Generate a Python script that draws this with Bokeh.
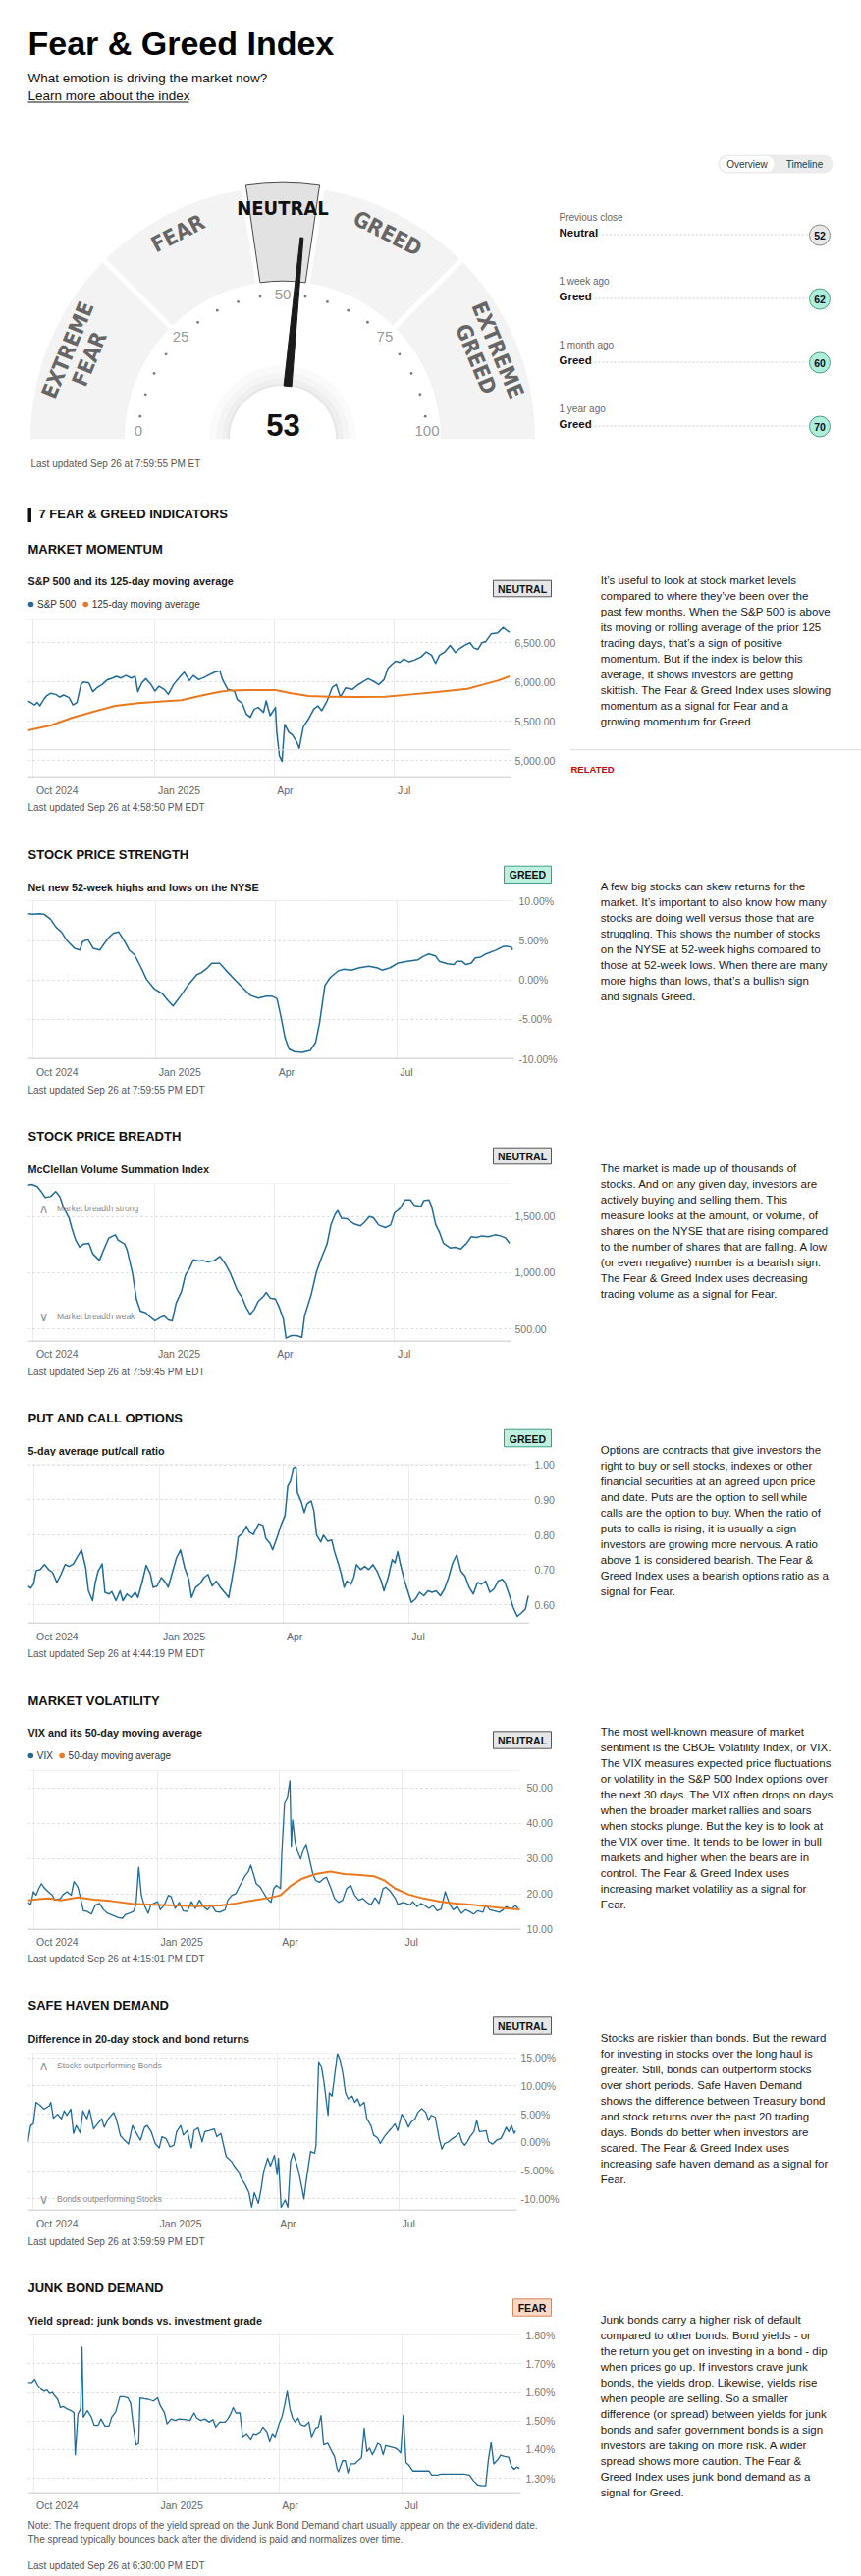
import numpy as np
import pandas as pd
from bokeh.plotting import figure
from bokeh.layouts import column, row
from bokeh.models import Range1d, FixedTicker, NumeralTickFormatter, PrintfTickFormatter, Span
from bokeh.core.properties import value
from bokeh.embed import file_html
from bokeh.resources import INLINE

SANS = "Liberation Sans"
NARROW = "Liberation Sans Narrow, DejaVu Sans Condensed, sans-serif"
BLUE = "#1f6a97"
ORANGE = "#e8791f"

# ---------------- data ----------------
gauge_value = 53
gauge_bounds = [0, 25, 45, 55, 75, 100]
gauge_names = [["EXTREME", "FEAR"], ["FEAR"], ["NEUTRAL"], ["GREED"], ["EXTREME", "GREED"]]
gauge_active = 2
gauge_ticks = list(range(0, 101, 5))

hist_when = ["Previous close", "1 week ago", "1 month ago", "1 year ago"]
hist_rating = ["Neutral", "Greed", "Greed", "Greed"]
hist_value = [52, 62, 60, 70]

start_date = "2024-09-26"
x_start, x_end = "2024-09-27", "2025-09-27"
quarter_dates = ["2024-10-01", "2025-01-01", "2025-04-01", "2025-07-01"]
quarter_labels = ["Oct 2024", "Jan 2025", "Apr", "Jul"]

sp500_days = [1,3,6,8,10,13,15,18,22,25,28,32,35,38,41,43,47,50,53,57,61,65,68,71,75,79,82,84,87,90,94,97,100,104,107,111,115,119,123,126,130,134,138,142,146,148,152,157,159,163,166,169,172,175,179,181,184,188,189,191,193,194,195,198,201,204,206,209,213,217,220,223,227,231,234,237,241,246,250,254,258,262,266,270,273,276,279,282,285,289,293,298,302,306,309,312,316,320,324,327,331,335,338,341,344,347,351,356,360,363,365]
sp500_vals = [5760,5740,5710,5740,5698,5781,5823,5856,5843,5810,5835,5802,5710,5740,5968,6001,5989,5877,5926,5968,6030,6051,6072,6051,6084,6051,6072,5877,5989,6043,5968,5885,5947,5906,5843,5968,6051,6126,6018,6084,6030,6059,6093,6126,6143,6030,5906,5885,5781,5727,5594,5553,5656,5677,5615,5760,5573,5677,5365,5062,4991,5241,5461,5365,5324,5241,5158,5428,5532,5656,5698,5636,5760,5934,5968,5810,5926,5906,5960,6001,6043,6010,5968,6030,6176,6226,6267,6251,6292,6259,6280,6321,6384,6342,6238,6342,6384,6467,6375,6425,6467,6500,6433,6417,6500,6517,6612,6625,6695,6654,6633]
sp_ma_days = [1,18,34,51,67,84,100,117,134,146,154,167,188,200,213,229,250,271,291,312,333,345,356,365]
sp_ma_vals = [5386,5448,5544,5627,5698,5731,5752,5769,5835,5877,5893,5897,5897,5856,5823,5814,5810,5814,5843,5877,5914,5968,6018,6072]

strength_days = [1,5,9,13,18,22,26,30,36,40,42,46,50,55,61,65,69,73,77,81,86,90,96,102,106,110,116,121,125,128,131,135,139,145,149,156,162,168,174,180,184,188,191,194,197,201,207,213,217,220,224,228,234,238,244,250,257,263,267,273,279,286,294,298,302,307,310,316,321,323,327,330,334,337,341,345,352,358,361,364,365]
strength_vals = [8.4,8.35,8.4,8.35,7.7,6.7,6.1,5.05,4.0,3.8,4.85,5.15,4.0,3.8,5.25,5.9,6.1,5.05,3.8,3.2,1.55,0.1,-1.15,-1.75,-2.6,-3.3,-1.95,-0.7,0.1,0.7,0.9,1.4,2.1,2.1,1.35,0.1,-0.95,-1.95,-2.3,-2.05,-2.05,-2.35,-4.65,-7.3,-8.75,-9.1,-9.2,-8.95,-7.95,-5.45,-0.7,0.3,1.15,1.35,1.25,1.55,1.75,1.55,1.25,1.55,2.15,2.35,2.55,3.0,3.3,3.05,2.35,2.05,1.95,2.35,2.35,1.95,2.15,2.8,2.9,3.3,3.75,4.25,4.25,4.15,3.8]

breadth_days = [1,4,8,11,14,18,22,25,28,32,34,37,40,43,47,50,55,58,62,67,69,74,76,80,83,86,90,93,97,101,104,107,110,113,117,120,123,126,130,133,137,142,146,150,154,159,163,166,169,172,175,179,181,184,188,191,194,196,200,204,208,210,215,219,223,227,230,233,235,238,242,247,252,255,259,262,266,271,275,278,282,286,290,293,298,300,304,306,309,312,315,320,324,328,332,336,340,344,349,354,358,362,365]
breadth_vals = [1779,1785,1765,1721,1669,1677,1721,1677,1576,1488,1401,1291,1227,1256,1262,1169,1110,1198,1308,1337,1291,1256,1198,994,762,660,645,610,573,602,616,581,573,733,834,980,1038,1116,1105,1110,1096,1110,1145,1081,994,849,776,689,631,674,747,791,826,776,767,689,587,419,442,442,427,616,805,1009,1140,1256,1430,1517,1552,1483,1480,1436,1416,1445,1500,1488,1424,1401,1424,1532,1570,1648,1648,1599,1590,1640,1648,1590,1430,1358,1262,1221,1227,1212,1256,1320,1314,1328,1320,1337,1328,1308,1262]

putcall_days = [1,3,5,7,10,13,16,19,22,25,28,31,34,37,40,43,45,48,50,52,55,57,60,62,65,68,70,73,76,79,81,84,87,90,92,95,98,101,103,106,109,112,115,118,120,123,126,129,132,135,138,141,144,147,149,152,154,157,160,162,165,167,169,172,174,177,179,182,185,188,190,192,194,196,197,200,202,204,207,209,211,214,216,219,222,224,227,229,231,233,236,238,240,243,246,249,252,255,258,260,263,266,268,270,272,275,278,280,283,286,289,292,295,298,301,304,307,310,313,316,319,322,325,328,331,334,337,340,343,346,348,351,354,357,360,363,365]
putcall_vals = [0.654,0.648,0.659,0.698,0.701,0.715,0.701,0.692,0.664,0.687,0.715,0.710,0.717,0.738,0.757,0.706,0.640,0.612,0.664,0.696,0.717,0.636,0.631,0.638,0.612,0.640,0.612,0.631,0.621,0.636,0.621,0.664,0.713,0.689,0.650,0.654,0.678,0.664,0.650,0.692,0.734,0.757,0.706,0.673,0.621,0.650,0.659,0.678,0.687,0.654,0.668,0.650,0.636,0.621,0.664,0.734,0.794,0.804,0.825,0.808,0.801,0.818,0.832,0.827,0.790,0.776,0.757,0.790,0.827,0.855,0.939,0.953,0.991,0.995,0.921,0.893,0.864,0.888,0.897,0.869,0.799,0.780,0.799,0.782,0.785,0.752,0.715,0.687,0.650,0.668,0.659,0.678,0.715,0.701,0.710,0.701,0.715,0.696,0.668,0.640,0.678,0.729,0.720,0.752,0.715,0.668,0.631,0.607,0.617,0.636,0.626,0.640,0.636,0.640,0.626,0.645,0.678,0.720,0.743,0.696,0.682,0.650,0.631,0.664,0.659,0.668,0.636,0.645,0.668,0.673,0.664,0.631,0.593,0.567,0.577,0.589,0.626]

vix_days = [1,3,5,7,9,11,13,16,19,21,25,27,30,33,35,38,40,42,45,48,51,54,57,60,64,68,71,73,76,79,81,83,85,87,90,92,97,99,102,105,107,110,113,116,119,122,125,128,131,134,137,140,143,147,149,152,155,158,162,164,166,168,170,173,175,178,181,183,185,188,189,191,193,195,196,197,199,201,203,205,207,210,212,214,217,220,222,225,228,231,234,237,240,243,246,249,252,255,258,261,264,266,269,273,275,279,284,286,289,292,294,298,301,304,307,310,313,316,319,322,325,328,331,334,338,340,343,346,350,353,355,359,362,364,365]
vix_vals = [17.6,16.9,20.6,19.6,21.5,22.9,21.7,20.6,19.6,18.2,18.7,19.8,20.6,19.6,23.5,21.9,18.7,15.2,15.0,14.3,16.9,17.3,15.5,14.5,13.9,13.3,13.1,14.1,14.5,15.0,16.9,27.5,19.6,16.9,14.5,16.9,17.8,15.5,16.9,19.6,19.2,15.9,17.6,15.2,15.0,17.8,15.9,18.2,16.4,15.5,16.9,15.0,14.8,15.5,18.2,19.6,20.1,22.4,25.2,26.1,28.1,25.6,22.9,21.9,20.6,18.7,17.6,21.5,22.4,21.5,31.7,45.6,47.0,52.0,33.5,40.9,34.4,31.7,29.8,32.6,34.0,28.9,25.6,23.8,23.3,24.3,24.7,21.9,18.7,17.6,18.2,21.5,22.4,19.6,18.2,18.7,17.6,16.9,18.9,17.3,21.5,21.9,20.9,18.7,17.0,17.6,16.9,17.8,16.4,17.3,16.9,15.9,16.7,15.2,15.7,20.6,17.3,15.5,16.4,14.5,15.5,15.0,14.3,15.2,14.8,16.9,15.5,15.2,14.8,15.5,16.4,15.7,16.7,15.9,15.4]
vix_ma_days = [1,9,17,25,38,50,62,78,94,111,127,143,155,168,180,188,196,204,214,225,235,245,257,265,273,283,294,306,318,330,342,355,365]
vix_ma_vals = [18.2,18.5,18.7,18.2,19.0,18.4,18.0,17.2,16.9,16.7,16.5,16.7,17.3,18.2,18.9,19.6,22.4,24.3,25.6,26.3,25.6,25.4,25.0,23.8,21.5,19.8,18.7,17.8,17.3,16.9,16.4,15.9,15.6]

safe_days = [1,3,5,7,10,13,17,18,20,23,26,28,30,33,35,37,40,42,45,47,50,53,56,58,61,65,67,70,73,76,79,82,85,88,90,93,96,99,101,104,107,110,112,115,117,120,123,125,128,131,133,136,140,142,145,147,149,153,155,158,160,163,166,168,170,173,175,177,180,182,185,187,188,190,193,195,197,199,201,203,205,207,209,212,215,216,218,220,222,225,226,228,230,232,234,236,238,240,243,245,247,249,252,254,257,259,262,264,267,270,272,275,277,280,283,285,287,290,292,295,298,300,302,305,308,310,312,315,318,320,323,325,327,329,331,334,336,338,341,343,345,348,351,354,356,358,360,362,364,365]
safe_vals = [0.1,3.0,3.3,7.1,6.6,5.9,6.5,7.1,4.3,5.0,4.2,5.6,4.8,5.9,1.6,3.0,1.7,5.6,4.2,5.8,2.4,3.3,4.2,2.7,4.2,5.3,4.1,1.2,0.4,-0.3,3.0,1.6,0.4,2.7,3.0,1.9,-0.2,-1.0,1.0,0.7,-0.8,-0.5,1.9,3.0,1.3,2.1,-1.0,2.1,2.6,0.1,1.9,2.1,2.4,1.0,1.6,-0.5,-2.5,-3.4,-4.2,-5.1,-6.3,-7.4,-8.9,-11.5,-8.9,-10.8,-8.3,-5.1,-2.8,-4.2,-2.3,-5.7,-2.8,-11.5,-10.2,-11.5,-3.4,-1.9,-3.4,-5.1,-7.4,-10.0,-6.3,-1.6,-1.9,-0.5,14.3,13.5,10.6,4.8,8.8,8.2,12.0,15.8,14.6,12.3,8.8,7.7,8.2,7.1,7.7,6.5,7.1,4.2,3.0,1.3,0.8,-0.2,1.0,1.9,2.4,3.3,2.1,5.0,3.9,2.7,3.6,4.2,5.3,6.0,5.3,3.9,4.8,4.5,0.7,-1.2,-0.2,0.1,0.7,1.0,1.7,0.1,-0.5,0.1,1.0,1.9,3.9,1.9,2.0,2.1,0.1,-0.3,0.4,0.7,1.6,2.7,1.9,3.0,1.6,2.1]

junk_days = [1,4,6,8,11,13,15,17,19,21,23,25,27,30,33,35,36,38,40,41,42,45,48,50,53,55,58,61,63,66,69,72,75,77,79,81,83,84,87,90,94,97,99,102,104,107,110,113,117,121,124,126,129,132,135,138,140,143,147,149,151,153,155,158,160,163,166,168,170,173,175,178,180,182,184,187,189,191,193,195,197,199,201,203,206,209,211,214,216,218,220,223,226,228,230,231,234,236,238,240,243,245,248,250,252,254,256,258,260,262,264,266,269,273,275,277,279,281,283,286,290,294,298,300,304,307,312,318,324,328,331,334,337,340,342,344,346,349,351,354,357,359,361,363,365]
junk_vals = [1.635,1.635,1.646,1.627,1.610,1.604,1.608,1.596,1.600,1.587,1.576,1.547,1.551,1.542,1.536,1.530,1.382,1.524,1.542,1.758,1.513,1.536,1.513,1.485,1.485,1.507,1.482,1.482,1.513,1.532,1.585,1.585,1.581,1.562,1.485,1.416,1.422,1.581,1.578,1.576,1.570,1.581,1.553,1.530,1.490,1.507,1.502,1.507,1.505,1.502,1.528,1.510,1.502,1.507,1.496,1.505,1.479,1.496,1.496,1.507,1.524,1.547,1.528,1.528,1.445,1.456,1.437,1.456,1.453,1.462,1.479,1.462,1.430,1.456,1.445,1.490,1.513,1.553,1.604,1.542,1.510,1.496,1.510,1.487,1.482,1.496,1.445,1.475,1.479,1.519,1.416,1.422,1.393,1.376,1.331,1.323,1.361,1.361,1.319,1.350,1.350,1.359,1.371,1.475,1.393,1.405,1.382,1.399,1.422,1.416,1.382,1.414,1.410,1.405,1.399,1.388,1.521,1.354,1.346,1.325,1.325,1.325,1.325,1.311,1.311,1.314,1.314,1.314,1.314,1.311,1.291,1.277,1.274,1.274,1.365,1.425,1.350,1.365,1.380,1.376,1.373,1.342,1.331,1.339,1.334]

momentum_desc = ["It’s useful to look at stock market levels", "compared to where they’ve been over the",
    "past few months. When the S&P 500 is above", "its moving or rolling average of the prior 125",
    "trading days, that’s a sign of positive", "momentum. But if the index is below this",
    "average, it shows investors are getting", "skittish. The Fear & Greed Index uses slowing",
    "momentum as a signal for Fear and a", "growing momentum for Greed."]
strength_desc = ["A few big stocks can skew returns for the", "market. It’s important to also know how many",
    "stocks are doing well versus those that are", "struggling. This shows the number of stocks",
    "on the NYSE at 52-week highs compared to", "those at 52-week lows. When there are many",
    "more highs than lows, that’s a bullish sign", "and signals Greed."]
breadth_desc = ["The market is made up of thousands of", "stocks. And on any given day, investors are",
    "actively buying and selling them. This", "measure looks at the amount, or volume, of",
    "shares on the NYSE that are rising compared", "to the number of shares that are falling. A low",
    "(or even negative) number is a bearish sign.", "The Fear & Greed Index uses decreasing",
    "trading volume as a signal for Fear."]
putcall_desc = ["Options are contracts that give investors the", "right to buy or sell stocks, indexes or other",
    "financial securities at an agreed upon price", "and date. Puts are the option to sell while",
    "calls are the option to buy. When the ratio of", "puts to calls is rising, it is usually a sign",
    "investors are growing more nervous. A ratio", "above 1 is considered bearish. The Fear &",
    "Greed Index uses a bearish options ratio as a", "signal for Fear."]
vix_desc = ["The most well-known measure of market", "sentiment is the CBOE Volatility Index, or VIX.",
    "The VIX measures expected price fluctuations", "or volatility in the S&P 500 Index options over",
    "the next 30 days. The VIX often drops on days", "when the broader market rallies and soars",
    "when stocks plunge. But the key is to look at", "the VIX over time. It tends to be lower in bull",
    "markets and higher when the bears are in", "control. The Fear & Greed Index uses",
    "increasing market volatility as a signal for", "Fear."]
safe_desc = ["Stocks are riskier than bonds. But the reward", "for investing in stocks over the long haul is",
    "greater. Still, bonds can outperform stocks", "over short periods. Safe Haven Demand",
    "shows the difference between Treasury bond", "and stock returns over the past 20 trading",
    "days. Bonds do better when investors are", "scared. The Fear & Greed Index uses",
    "increasing safe haven demand as a signal for", "Fear."]
junk_desc = ["Junk bonds carry a higher risk of default", "compared to other bonds. Bond yields - or",
    "the return you get on investing in a bond - dip", "when prices go up. If investors crave junk",
    "bonds, the yields drop. Likewise, yields rise", "when people are selling. So a smaller",
    "difference (or spread) between yields for junk", "bonds and safer government bonds is a sign",
    "investors are taking on more risk. A wider", "spread shows more caution. The Fear &",
    "Greed Index uses junk bond demand as a", "signal for Greed."]
junk_note = ["Note: The frequent drops of the yield spread on the Junk Bond Demand chart usually appear on the ex-dividend date.",
    "The spread typically bounces back after the dividend is paid and normalizes over time."]

# ---------------- styles ----------------
badge_w = {"NEUTRAL": 59, "GREED": 48, "FEAR": 39}
badge_style = {"NEUTRAL": ("#e6e6e6", "#555555"), "GREED": ("#bdf0df", "#3f9a86"), "FEAR": ("#fcd8c5", "#d4875c")}
rating_fill = {"Neutral": ("#e8e8e8", "#8a8a8a"), "Greed": ("#aeeedb", "#4b9e8b"), "Fear": ("#fcd8c5", "#d4875c")}
SPLIT, RIGHT = 580, 877
DESC_FONT = "11.5px"


def txt(p, x, y, s, size, color="#111", bold=False, align="left", baseline="middle", font=SANS, angle=0.0, x_offset=0):
    p.text(x=[x], y=[y], text=[s], text_font=value(font), text_font_size=size,
           text_font_style="bold" if bold else "normal", text_color=color,
           text_align=align, text_baseline=baseline, angle=angle, x_offset=x_offset)


def pix_fig(x0, x1, y0, y1, xr=None):
    p = figure(width=int(round(x1 - x0)), height=int(round(y1 - y0)),
               x_range=xr if xr is not None else Range1d(x0, x1), y_range=Range1d(y1, y0),
               x_axis_location=None, y_axis_location=None,
               output_backend="svg", toolbar_location=None, min_border=0,
               outline_line_color=None)
    p.xgrid.visible = False
    p.ygrid.visible = False
    return p


# ---------------- header + gauge ----------------
hdr = pix_fig(0, RIGHT, 0, 540)
txt(hdr, 28, 43, "Fear & Greed Index", "34px", "#000", True, baseline="alphabetic")
txt(hdr, 28, 79, "What emotion is driving the market now?", "13.5px", "#111")
txt(hdr, 28, 96.7, "Learn more about the index", "13.5px", "#111")
hdr.segment(x0=[28], y0=[103.5], x1=[192], y1=[103.5], line_color="#111", line_width=1)

# toggle
hdr.segment(x0=[740.5], y0=[166.5], x1=[838.5], y1=[166.5], line_color="#ececec", line_width=19, line_cap="round")
hdr.segment(x0=[741], y0=[166.5], x1=[780], y1=[166.5], line_color="#ffffff", line_width=16, line_cap="round")
txt(hdr, 760.5, 166.5, "Overview", "10px", "#333", align="center")
txt(hdr, 819, 166.5, "Timeline", "10px", "#333", align="center")

cx, cy = 287.5, 446.7
r_in, r_out = 161, 257


def ang(v):
    return np.pi * (1 - v / 100.0)


n = len(gauge_names)
hdr.annular_wedge(x=[cx] * n, y=[cy] * n, inner_radius=r_in, outer_radius=r_out,
                  start_angle=[ang(b) for b in gauge_bounds[1:]], end_angle=[ang(b) for b in gauge_bounds[:-1]],
                  fill_color="#f3f3f3", line_color=None, direction="anticlock")
inner_b = gauge_bounds[1:-1]
hdr.segment(x0=[cx + (r_in - 3) * np.cos(ang(b)) for b in inner_b], y0=[cy - (r_in - 3) * np.sin(ang(b)) for b in inner_b],
            x1=[cx + (r_out + 9) * np.cos(ang(b)) for b in inner_b], y1=[cy - (r_out + 9) * np.sin(ang(b)) for b in inner_b],
            line_color="white", line_width=5)
a0, a1 = gauge_bounds[gauge_active], gauge_bounds[gauge_active + 1]
hdr.annular_wedge(x=[cx], y=[cy], inner_radius=r_in, outer_radius=r_out + 5,
                  start_angle=[ang(a1) + 0.013], end_angle=[ang(a0) - 0.013],
                  fill_color="#e2e2e2", line_color="#4a4a4a", line_width=1, direction="anticlock")

for k, names in enumerate(gauge_names):
    mid = (gauge_bounds[k] + gauge_bounds[k + 1]) / 2.0
    th = ang(mid)
    radii = [235] if len(names) == 1 else [237, 213]
    active = (k == gauge_active)
    col = "#111111" if active else "#666666"
    size = "20px" if active else "22px"
    for nm, rr in zip(names, radii):
        txt(hdr, cx + rr * np.cos(th), cy - rr * np.sin(th), nm, size, col, True,
            align="center", font=NARROW, angle=th - np.pi / 2)

# ticks
dots = [v for v in gauge_ticks if v % 25]
hdr.circle(x=[cx + 147 * np.cos(ang(v)) for v in dots], y=[cy - 147 * np.sin(ang(v)) for v in dots],
           radius=1.4, fill_color="#7a7a7a", line_color=None)
for v in gauge_ticks:
    if v % 25 == 0:
        yy = min(cy - 147 * np.sin(ang(v)), cy - 8)
        txt(hdr, cx + 147 * np.cos(ang(v)), yy, str(v), "15px", "#9a9a9a", align="center")

# center disc with soft shadow
for (ri, ro, c) in [(68, 75, "#fafafa"), (62, 68, "#f5f5f5"), (57, 62, "#efefef"), (54, 57, "#e8e8e8")]:
    hdr.annular_wedge(x=[cx], y=[cy], inner_radius=ri, outer_radius=ro, start_angle=0, end_angle=np.pi,
                      fill_color=c, line_color=None, direction="anticlock")
hdr.wedge(x=[cx], y=[cy], radius=54, start_angle=0, end_angle=np.pi, fill_color="white", line_color=None,
          direction="anticlock")

# needle
th = ang(gauge_value)
ux, uy = np.cos(th), -np.sin(th)
nx, ny = np.sin(th), np.cos(th)
bx, by = cx + 54 * ux, cy + 54 * uy
tx, ty = cx + 206 * ux, cy + 206 * uy
hdr.patch(x=[bx + 4 * nx, tx + 1.5 * nx, tx - 1.5 * nx, bx - 4 * nx],
          y=[by + 4 * ny, ty + 1.5 * ny, ty - 1.5 * ny, by - 4 * ny], fill_color="#1b1b1b", line_color="#1b1b1b")
txt(hdr, 288, 432, str(gauge_value), "31px", "#111", True, align="center")
txt(hdr, 31, 471.7, "Last updated Sep 26 at 7:59:55 PM ET", "10px", "#555")

# history list
for i, (w, rt, vv) in enumerate(zip(hist_when, hist_rating, hist_value)):
    y0 = 221 + 65 * i
    txt(hdr, 569, y0, w, "10px", "#666")
    txt(hdr, 569, y0 + 15, rt, "11.5px", "#111", True)
    cyy = y0 + 18
    hdr.segment(x0=[569 + len(rt) * 5.6 + 4], y0=[cyy - 0.5], x1=[822], y1=[cyy - 0.5],
                line_color="#cccccc", line_width=1, line_dash="2 2")
    f, l = rating_fill[rt]
    hdr.circle(x=[834.5], y=[cyy], radius=10.5, fill_color=f, line_color=l, line_width=1)
    txt(hdr, 834.5, cyy, str(vv), "10.5px", "#111", True, align="center")

hdr.quad(left=[28], right=[31.5], top=[516.5], bottom=[531.5], fill_color="#111", line_color=None)
txt(hdr, 39, 523.3, "7 FEAR & GREED INDICATORS", "13px", "#111", True)

# ---------------- indicator sections ----------------
pct = PrintfTickFormatter(format="%.2f%%")
sections = [
    dict(top=540, ftop=631, fbot=791, bot=845, fright=520, standoff=4, yr=(4792, 6791),
         yticks=[5000, 5500, 6000, 6500], yfmt=NumeralTickFormatter(format="0,0.00"),
         title="MARKET MOMENTUM", y_title=558.7, subtitle="S&P 500 and its 125-day moving average", y_sub=591.3,
         badge="NEUTRAL", badge_y=(590.7, 607.3),
         legend=[(31, "S&P 500", BLUE), (86.7, "125-day moving average", ORANGE)], y_leg=615,
         series=[(sp500_days, sp500_vals, BLUE, 1.5), (sp_ma_days, sp_ma_vals, ORANGE, 2)],
         y_xlab=804.3, updated="Last updated Sep 26 at 4:58:50 PM EDT", y_upd=821.7,
         desc=momentum_desc, y_desc=590.3, hline=763.3),
    dict(top=845, ftop=917, fbot=1078, bot=1130, fright=523, standoff=5, yr=(-10.0, 10.05),
         yticks=[-10, -5, 0, 5, 10], yfmt=pct,
         title="STOCK PRICE STRENGTH", y_title=870, subtitle="Net new 52-week highs and lows on the NYSE", y_sub=903.3,
         badge="GREED", badge_y=(881.7, 899),
         series=[(strength_days, strength_vals, BLUE, 1.5)],
         y_xlab=1091.7, updated="Last updated Sep 26 at 7:59:55 PM EDT", y_upd=1109.7,
         desc=strength_desc, y_desc=902.3),
    dict(top=1130, ftop=1205, fbot=1366, bot=1415, fright=520, standoff=4, yr=(389.5, 1793.6),
         yticks=[500, 1000, 1500], yfmt=NumeralTickFormatter(format="0,0.00"),
         title="STOCK PRICE BREADTH", y_title=1156.7, subtitle="McClellan Volume Summation Index", y_sub=1190.3,
         badge="NEUTRAL", badge_y=(1168.7, 1185.3),
         notes=[("Market breadth strong", "top", 25), ("Market breadth weak", "bottom", 26)],
         series=[(breadth_days, breadth_vals, BLUE, 1.5)],
         y_xlab=1378.7, updated="Last updated Sep 26 at 7:59:45 PM EDT", y_upd=1396.7,
         desc=breadth_desc, y_desc=1189.3),
    dict(top=1415, ftop=1491, fbot=1653, bot=1700, fright=539, standoff=5, yr=(0.5475, 1.002),
         yticks=[0.6, 0.7, 0.8, 0.9, 1.0], yfmt=NumeralTickFormatter(format="0.00"),
         title="PUT AND CALL OPTIONS", y_title=1444.3, subtitle="5-day average put/call ratio", y_sub=1477.3,
         badge="GREED", badge_y=(1455.7, 1473.3),
         series=[(putcall_days, putcall_vals, BLUE, 1.5)],
         y_xlab=1666.7, updated="Last updated Sep 26 at 4:44:19 PM EDT", y_upd=1684,
         desc=putcall_desc, y_desc=1476.3),
    dict(top=1700, ftop=1803, fbot=1965, bot=2010, fright=530, standoff=6, yr=(9.91, 54.9),
         yticks=[10, 20, 30, 40, 50], yfmt=NumeralTickFormatter(format="0.00"),
         title="MARKET VOLATILITY", y_title=1731.7, subtitle="VIX and its 50-day moving average", y_sub=1764.3,
         badge="NEUTRAL", badge_y=(1763.3, 1780.7),
         legend=[(30.8, "VIX", BLUE), (62.6, "50-day moving average", ORANGE)], y_leg=1788,
         series=[(vix_days, vix_vals, BLUE, 1.3), (vix_ma_days, vix_ma_vals, ORANGE, 2)],
         y_xlab=1977.3, updated="Last updated Sep 26 at 4:15:01 PM EDT", y_upd=1995,
         desc=vix_desc, y_desc=1763.3),
    dict(top=2010, ftop=2091, fbot=2251, bot=2298, fright=526, standoff=4, yr=(-12.03, 15.81),
         yticks=[-10, -5, 0, 5, 10, 15], yfmt=pct,
         title="SAFE HAVEN DEMAND", y_title=2042.3, subtitle="Difference in 20-day stock and bond returns", y_sub=2076.3,
         badge="NEUTRAL", badge_y=(2054.3, 2071.7),
         notes=[("Stocks outperforming Bonds", "top", 12), ("Bonds outperforming Stocks", "bottom", 12)],
         series=[(safe_days, safe_vals, BLUE, 1.3)],
         y_xlab=2264.3, updated="Last updated Sep 26 at 3:59:59 PM EDT", y_upd=2282.7,
         desc=safe_desc, y_desc=2075.3),
    dict(top=2298, ftop=2378, fbot=2539, bot=2624, fright=530, standoff=5, yr=(1.2487, 1.8005),
         yticks=[1.3, 1.4, 1.5, 1.6, 1.7, 1.8], yfmt=pct,
         title="JUNK BOND DEMAND", y_title=2330, subtitle="Yield spread: junk bonds vs. investment grade", y_sub=2363.3,
         badge="FEAR", badge_y=(2341.3, 2358.7),
         series=[(junk_days, junk_vals, BLUE, 1.3)],
         y_xlab=2551.7, footnote=[(2571.7, junk_note[0]), (2585.7, junk_note[1])],
         updated="Last updated Sep 26 at 6:30:00 PM EDT", y_upd=2613.3,
         desc=junk_desc, y_desc=2362.3),
]

base = pd.Timestamp(start_date)
xs_ms = pd.Timestamp(x_start).value / 1e6
xe_ms = pd.Timestamp(x_end).value / 1e6
q_ms = [pd.Timestamp(d).value / 1e6 for d in quarter_dates]


def make_section(c):
    top, ftop, fbot, bot, fr = c["top"], c["ftop"], c["fbot"], c["bot"], c["fright"]
    # ---- head (page pixel coordinates) ----
    head = pix_fig(0, SPLIT, top, ftop - 8)
    txt(head, 28, c["y_title"], c["title"], "13px", "#111", True)
    txt(head, 28, c["y_sub"], c["subtitle"], "10.8px", "#1a1a1a", True)
    b0, b1 = c["badge_y"]
    bw = badge_w[c["badge"]]
    fc, lc = badge_style[c["badge"]]
    head.quad(left=[561 - bw], right=[561], top=[b0], bottom=[b1], fill_color=fc, line_color=lc, line_width=1)
    txt(head, 561 - bw / 2.0, (b0 + b1) / 2.0 + 0.5, c["badge"], "10.5px", "#111", True, align="center")
    for (lx, lb, colr) in c.get("legend", []):
        head.circle(x=[lx], y=[c["y_leg"]], radius=2.8, fill_color=colr, line_color=None)
        txt(head, lx + 6.5, c["y_leg"], lb, "10px", "#333")

    # ---- chart ----
    ch = figure(width=SPLIT, height=(fbot + 7) - (ftop - 8),
                x_range=Range1d(pd.Timestamp(x_start), pd.Timestamp(x_end)),
                y_range=Range1d(*c["yr"]), x_axis_type="datetime",
                x_axis_location=None, y_axis_location="right",
                output_backend="svg", toolbar_location=None,
                min_border_left=28, min_border_right=SPLIT - fr, min_border_top=8, min_border_bottom=7,
                outline_line_color=None)
    g = ch.xgrid[0]
    try:
        g.ticker = FixedTicker(ticks=q_ms)
    except Exception:
        pass
    if g.axis is not None:
        g.axis.ticker = FixedTicker(ticks=q_ms)
    g.grid_line_color = "#ececec"
    ya = ch.yaxis[0]
    ya.ticker = FixedTicker(ticks=c["yticks"])
    ya.formatter = c["yfmt"]
    ya.major_label_text_font_size = "10.5px"
    ya.major_label_text_font = SANS
    ya.major_label_text_color = "#777777"
    ya.major_label_standoff = c["standoff"]
    ya.axis_line_color = None
    ya.major_tick_out = 0
    ya.major_tick_in = 0
    ya.minor_tick_out = 0
    ya.minor_tick_in = 0
    ch.ygrid.grid_line_color = "#d6d6d6"
    ch.ygrid.grid_line_dash = "2 3"
    ch.add_layout(Span(location=c["yr"][1], dimension="width", line_color="#e8e8e8", line_width=1))
    ch.add_layout(Span(location=c["yr"][0], dimension="width", line_color="#b8b8b8", line_width=1.5))
    if "hline" in c:
        y0v, y1v = c["yr"]
        loc = y0v + (fbot - c["hline"]) / float(fbot - ftop) * (y1v - y0v)
        ch.add_layout(Span(location=loc, dimension="width", line_color="#dddddd", line_width=1))
    for (dd, vv, colr, lw) in c["series"]:
        m = min(len(dd), len(vv))
        dates = base + pd.to_timedelta(dd[:m], unit="D")
        ch.line(x=dates, y=vv[:m], line_color=colr, line_width=lw, line_join="round")
    for (lb, where, off) in c.get("notes", []):
        yv = c["yr"][1] if where == "top" else c["yr"][0]
        yo = off if where == "top" else -off
        ch.text(x=[pd.Timestamp(x_start)], y=[yv], text=["∧" if where == "top" else "∨"], x_offset=16, y_offset=yo,
                text_font=value("DejaVu Sans"), text_font_size="14px", text_color="#9a9a9a",
                text_align="center", text_baseline="middle")
        ch.text(x=[pd.Timestamp(x_start)], y=[yv], text=[lb], x_offset=29.5, y_offset=yo,
                text_font=value(SANS), text_font_size="8.5px", text_color="#888888",
                text_align="left", text_baseline="middle")

    # ---- foot: full-width frame whose date scale continues the chart's ----
    mpp = (xe_ms - xs_ms) / float(fr - 28)
    foot = pix_fig(0, SPLIT, fbot + 7, bot, xr=Range1d(xs_ms - 28 * mpp, xe_ms + (SPLIT - fr) * mpp))
    for qm, ql in zip(q_ms, quarter_labels):
        txt(foot, qm, c["y_xlab"], ql, "10.5px", "#666666", x_offset=3)
    for (yy, s) in c.get("footnote", []):
        txt(foot, xs_ms, yy, s, "10px", "#555555")
    txt(foot, xs_ms, c["y_upd"], c["updated"], "10px", "#555555")

    # ---- description ----
    tf = pix_fig(SPLIT, RIGHT, top, bot)
    lines = c["desc"]
    tf.text(x=[611.3] * len(lines), y=[c["y_desc"] + 16 * i for i in range(len(lines))], text=lines,
            text_font=value(SANS), text_font_size=DESC_FONT, text_color="#1a1a1a",
            text_align="left", text_baseline="middle")
    if "hline" in c:
        tf.segment(x0=[SPLIT], y0=[c["hline"]], x1=[RIGHT], y1=[c["hline"]], line_color="#dddddd", line_width=1)
        txt(tf, SPLIT + 1, 782.7, "RELATED", "9.5px", "#cc0000", True)

    # wrap head and foot in their own columns so they are not frame-aligned with the chart
    left = column(column(head, spacing=0), ch, column(foot, spacing=0), spacing=0)
    return row(left, tf, spacing=0)


page = column([hdr] + [make_section(c) for c in sections], spacing=0)
open("out.html", "w").write(file_html(page, INLINE, "Fear & Greed Index"))
